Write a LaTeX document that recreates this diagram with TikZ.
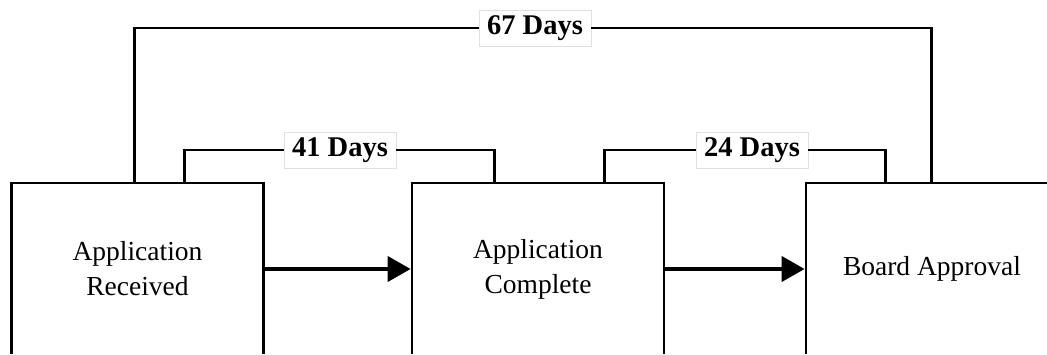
\documentclass[tikz,border=0pt]{standalone}
\usepackage{fontspec}
\setmainfont{Liberation Serif}
\usetikzlibrary{arrows.meta,positioning}

\begin{document}
\begin{tikzpicture}[x=1pt,y=-1pt,
  stagebox/.style={draw=black,line width=2.8pt,fill=white,minimum width=252pt,minimum height=172pt,
    align=center,font=\fontsize{27.5}{35}\selectfont},
  span/.style={draw=black,line width=2.8pt},
  daylabel/.style={draw=black!12,line width=0.6pt,fill=white,inner xsep=8pt,inner ysep=2pt,minimum height=36pt,
    font=\fontsize{28.5}{30}\selectfont\bfseries},
  flow/.style={line width=4pt,-{Triangle[length=23pt,width=25pt]}}]
 \useasboundingbox (0,0) rectangle (1047,355);
 \clip (0,0) rectangle (1047,353);

 % Stages
 \node [stagebox] (recv) at (137.5,269) {Application\\Received};
 \node [stagebox] (compl) at (538,269) {Application\\Complete};
 \node [stagebox] (board) at (932,269) {Board Approval};

 % Flow arrows
 \draw [flow] (recv.east) -- (compl.west);
 \draw [flow] (compl.east) -- (board.west);

 % Day labels
 \node [daylabel] (d67) at (535,28) {67 Days};
 \node [daylabel] (d41) at (340,150) {41 Days};
 \node [daylabel] (d24) at (752,150) {24 Days};

 % Spans
 \draw [span] ([xshift=124pt]recv.north west) |- (d67.west);
 \draw [span] (d67.east) -| ([xshift=127pt]board.north west);
 \draw [span] ([xshift=174pt]recv.north west) |- (d41.west);
 \draw [span] (d41.east) -| ([xshift=84pt]compl.north west);
 \draw [span] ([xshift=194pt]compl.north west) |- (d24.west);
 \draw [span] (d24.east) -| ([xshift=81pt]board.north west);

\end{tikzpicture}
\end{document}
